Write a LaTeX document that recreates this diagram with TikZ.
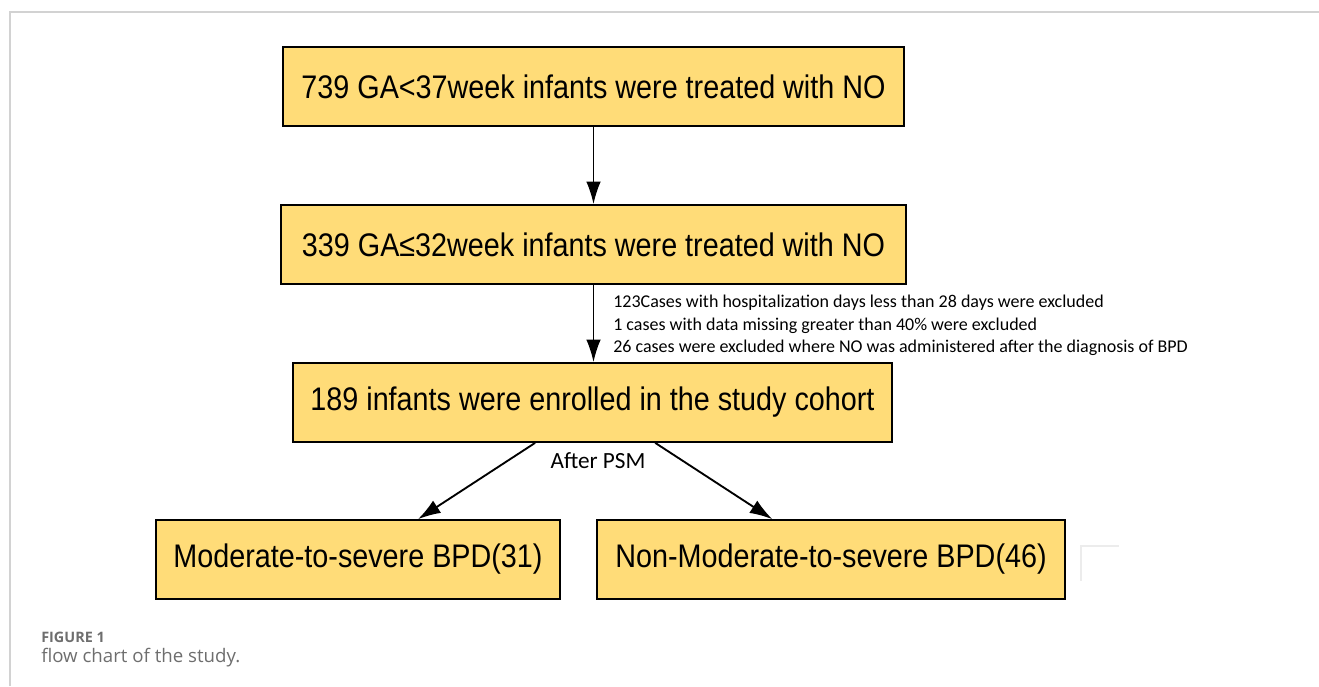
\documentclass[tikz,border=0pt]{standalone}
\usepackage{fontspec}
\setmainfont{Liberation Sans}
\newfontfamily\boxfont{Liberation Sans}[FakeStretch=0.88]
\newfontfamily\notefont{Carlito}
\newfontfamily\capfont{Open Sans}
\usetikzlibrary{%
  arrows.meta%
}
\definecolor{boxfill}{RGB}{255,220,120}
\definecolor{capgray}{RGB}{110,110,110}
\tikzset{>={Latex[length=17pt,width=11pt]}}
\tikzset{stage/.style = {draw, line width=1.5pt, fill=boxfill, minimum height=59pt,
    inner sep=0pt, font=\boxfont\fontsize{24.5}{28}\selectfont},%
  flow/.style = {->, line width=1.4pt},%
  note/.style = {font=\notefont\fontsize{13.5}{16.9}\selectfont, align=left, inner sep=0pt}}

\begin{document}
\begin{tikzpicture}[x=0.75pt,y=-0.75pt]
  \useasboundingbox (0,0) rectangle (1319,686);
  \draw[gray!35, line width=1.2pt] (10,686) -- (10,12) -- (1319,12);
  \draw[gray!15, line width=1pt] (1081,581) -- (1081,546) -- (1119,546);
  \node[stage, minimum width=466pt] (all) at (593.5,86.5) {739 GA<37week infants were treated with NO};
  \node[stage, minimum width=469pt] (early) at (593.5,244.5) {339 GA≤32week infants were treated with NO};
  \node[stage, minimum width=449pt] (cohort) at (592.5,402.5) {189 infants were enrolled in the study cohort};
  \node[stage, minimum width=303pt] (severe) at (358,559.5) {Moderate-to-severe BPD(31)};
  \node[stage, minimum width=351pt] (mild) at (831,559.5) {Non-Moderate-to-severe BPD(46)};
  \draw[flow] (all) -- (early);
  \draw[flow] (early) -- (early |- cohort.north);
  \node[note, anchor=north west] (excl) at (613,295) {123Cases with hospitalization days less than 28 days were excluded\\
    1 cases with data missing greater than 40\% were excluded\\
    26 cases were excluded where NO was administered after the diagnosis of BPD};
  \draw[flow] ([xshift=-43pt]cohort.south) -- ([xshift=45pt]severe.north);
  \draw[flow] ([xshift=47pt]cohort.south) -- ([xshift=-44pt]mild.north);
  \node[font=\notefont\fontsize{17.4}{20}\selectfont] (psm) at (598,461) {After PSM};
  \node[font=\capfont\bfseries\fontsize{10.8}{12}\selectfont, text=capgray, anchor=west, inner sep=0pt] (fig) at (41,637) {FIGURE 1};
  \node[font=\capfont\fontsize{14}{16}\selectfont, text=capgray, anchor=west, inner sep=0pt] (cap) at (41,658) {flow chart of the study.};
\end{tikzpicture}
\end{document}
